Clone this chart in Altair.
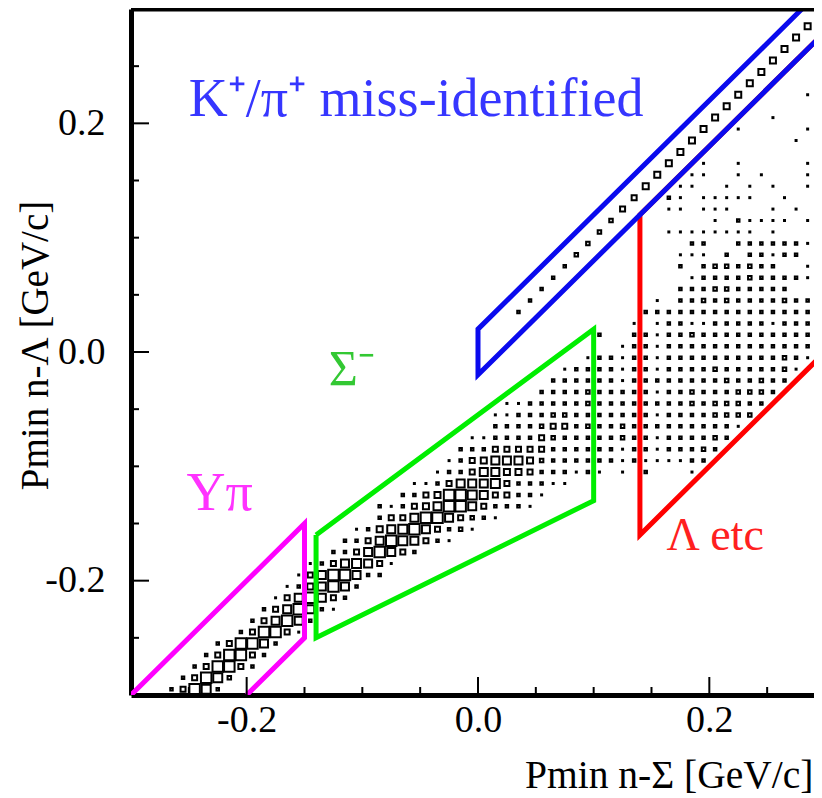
import altair as alt
import pandas as pd

# ---------------- data ----------------
# 2D histogram: 60 x 60 bins of 0.01 starting at -0.3 on both axes.
# For every row j (bottom to top): first filled column and one digit per cell
# (relative box size, 0 = empty).
bin_lo = -0.3
bin_w = 0.01
row_start = [3, 4, 5, 6, 7, 9, 10, 11, 12, 13, 14, 15, 17, 18, 19, 21, 21, 23, 24, 26,
             27, 28, 29, 31, 31, 32, 35, 36, 37, 39, 42, 40, 43, 33, 34, 35, 36, 37, 38, 39,
             40, 41, 42, 43, 44, 45, 46, 47, 48, 49, 50, 51, 52, 53, 54, 55, 56, 57, 58, 59]
row_cells = [
    "24872", "24873", "248842", "248842", "248862", "248841", "246862", "2468621",
    "1468642", "1256862", "14688622", "12467641", "22468642", "2246876421",
    "12567864231", "24468864321", "21245688642221", "2245887644221",
    "11246667422211", "12246655422212101020001", "12456665322222212111122",
    "22244444222222122122232", "11222243222223221222232", "2222344232232222222221",
    "11222332222222122223333", "11222223222222223233322", "222232222212232223332",
    "222222122222222322322", "122221221222232222231", "12212212222222222321",
    "122122222222222221", "20022122322222222222", "10122112222212222",
    "200000000002222222222222222", "20000000000102232322223221",
    "2000000000002223322222", "20000000000012222322221", "2000000000202332322001",
    "3000000001110202212202", "30000000022002222221", "3000001111111101",
    "300000000102111101", "400011011100010101", "40021011111001",
    "500110010101001", "500110010100011", "5001001000001", "5", "5000000001",
    "5001000001", "500001", "500000001", "5000001", "5", "5", "5", "5", "5", "5", "5",
]

# selection regions (polylines)
ypi_x = [-0.3, -0.15, -0.15, -0.2]
ypi_y = [-0.3, -0.15, -0.25, -0.3]
sig_x = [-0.14, 0.1, 0.1, -0.14, -0.14]
sig_y = [-0.16, 0.02, -0.13, -0.25, -0.16]
kpi_x = [0.28, 0.0, 0.0, 0.32]
kpi_y = [0.30, 0.02, -0.02, 0.30]
lam_x = [0.32, 0.14, 0.14, 0.32]
lam_y = [0.30, 0.12, -0.16, 0.02]

# region labels
lab_text = ["K⁺/π⁺ miss-identified", "Σ⁻", "Yπ", "Λ etc"]
lab_x = [-0.25, -0.129, -0.252, 0.163]
lab_y = [0.206, -0.029, -0.138, -0.173]

# axis ticks
major_ticks = [-0.2, 0.0, 0.2]
minor_ticks = [-0.25, -0.15, -0.1, -0.05, 0.05, 0.1, 0.15, 0.25]

# ---------------- build tables ----------------
recs = []
for j, (s, cells) in enumerate(zip(row_start, row_cells)):
    for k, ch in enumerate(cells):
        if ch != "0":
            recs.append({"x": bin_lo + bin_w * (s + k + 0.5),
                         "y": bin_lo + bin_w * (j + 0.5),
                         "v": int(ch)})
hist = pd.DataFrame(recs)

FONT = "Liberation Serif"
W, H = 683, 686
xscale = alt.Scale(domain=[-0.3, 0.2905], nice=False, zero=False)
yscale = alt.Scale(domain=[-0.3, 0.3], nice=False, zero=False)

neg_fmt = "datum.value < 0 ? '-' + format(-datum.value, '.1f') : format(datum.value, '.1f')"

x_axis = alt.Axis(values=major_ticks, labelExpr=neg_fmt, ticks=False, tickSize=0, grid=False,
                  domainWidth=5, domainColor="black", labelFont=FONT, labelFontSize=38,
                  labelColor="black", labelPadding=6, labelFlush=False,
                  title="Pmin n-Σ [GeV/c]", titleFont=FONT, titleFontSize=39.5,
                  titleFontWeight="normal", titleColor="black", titleAlign="right",
                  titleAnchor="end", titleBaseline="alphabetic", titleX=682, titleY=92)
y_axis = alt.Axis(values=major_ticks, labelExpr=neg_fmt, ticks=False, tickSize=0, grid=False,
                  domainWidth=5, domainColor="black", labelFont=FONT, labelFontSize=38,
                  labelColor="black", labelPadding=26, labelFlush=False,
                  title="Pmin n-Λ [GeV/c]", titleFont=FONT, titleFontSize=39,
                  titleFontWeight="normal", titleColor="black", titleAlign="center",
                  titleBaseline="alphabetic", titleAngle=270, titleX=-84, titleY=336)

levels = [1, 2, 3, 4, 5, 6, 7, 8]
areas = [1.0, 6.25, 12.25, 25, 36, 64, 81, 110]


def X(field):
    return alt.X(field, type="quantitative", scale=xscale, axis=x_axis)


def Y(field):
    return alt.Y(field, type="quantitative", scale=yscale, axis=y_axis)


boxes = alt.Chart(hist).mark_square(filled=False, color="black", strokeWidth=2,
                                    opacity=1, clip=True).encode(
    x=X("x"), y=Y("y"),
    size=alt.Size("v:Q", scale=alt.Scale(type="linear", domain=levels, range=areas,
                                         zero=False), legend=None),
)


def region(xs, ys, color):
    df = pd.DataFrame({"x": xs, "y": ys, "o": list(range(len(xs)))})
    return alt.Chart(df).mark_line(color=color, strokeWidth=5, clip=True).encode(
        x=X("x"), y=Y("y"), order="o:Q")


lines = [region(lam_x, lam_y, "#ff0000"), region(kpi_x, kpi_y, "#0a0aee"),
         region(sig_x, sig_y, "#00ee00"), region(ypi_x, ypi_y, "#ff00ff")]

lab_colors = ["#3636ff", "#33c833", "#ff33ff", "#ff2020"]
lab_sizes = [54, 50, 54, 46]
texts = []
for t, lx, ly, c, fs in zip(lab_text, lab_x, lab_y, lab_colors, lab_sizes):
    df = pd.DataFrame({"x": [lx], "y": [ly], "t": [t]})
    texts.append(alt.Chart(df).mark_text(align="left", baseline="alphabetic", font=FONT,
                                         fontSize=fs, color=c).encode(
        x=X("x"), y=Y("y"), text="t:N"))

ticks = []
for vals, ln in ((major_ticks, 18), (minor_ticks, 8)):
    df = pd.DataFrame({"x": vals, "y": vals})
    ticks.append(alt.Chart(df).mark_rule(color="black", strokeWidth=2).encode(
        x=X("x"), y=alt.value(H), y2=alt.value(H - ln)))
    ticks.append(alt.Chart(df).mark_rule(color="black", strokeWidth=2).encode(
        y=Y("y"), x=alt.value(0), x2=alt.value(ln)))

topline = alt.Chart(pd.DataFrame({"a": [0]})).mark_rule(color="black", strokeWidth=5).encode(
    y=alt.value(0), x=alt.value(0), x2=alt.value(W))

chart = alt.layer(boxes, *lines, *texts, *ticks, topline).properties(
    width=W, height=H, background="white",
    autosize=alt.AutoSizeParams(type="none"),
    padding={"left": 123, "top": 1, "right": 0, "bottom": 100},
).configure_view(stroke=None)

chart.save("out.html", embed_options={"renderer": "svg", "actions": False})
